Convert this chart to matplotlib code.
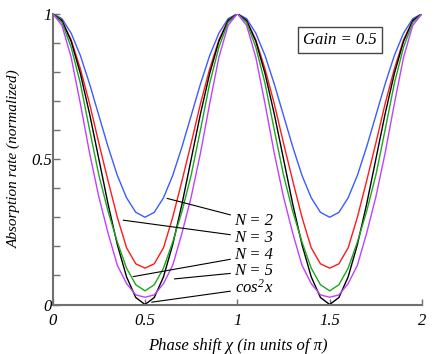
import matplotlib
matplotlib.use("Agg")
import matplotlib.pyplot as plt
from matplotlib.ticker import MultipleLocator

plt.rcParams["font.family"] = ["Liberation Serif", "DejaVu Serif"]
plt.rcParams["font.style"] = "italic"
plt.rcParams["mathtext.fontset"] = "custom"
plt.rcParams["mathtext.rm"] = "Liberation Serif:italic"
plt.rcParams["mathtext.it"] = "Liberation Serif:italic"

# phase shift in units of pi
phase = [0.00, 0.05, 0.10, 0.15, 0.20, 0.25, 0.30, 0.35, 0.40, 0.45,
         0.50, 0.55, 0.60, 0.65, 0.70, 0.75, 0.80, 0.85, 0.90, 0.95,
         1.00, 1.05, 1.10, 1.15, 1.20, 1.25, 1.30, 1.35, 1.40, 1.45,
         1.50, 1.55, 1.60, 1.65, 1.70, 1.75, 1.80, 1.85, 1.90, 1.95, 2.00]

n2 = [1.0, 0.983, 0.933, 0.856, 0.758, 0.65, 0.542, 0.444, 0.367, 0.317,
      0.30, 0.317, 0.367, 0.444, 0.542, 0.65, 0.758, 0.856, 0.933, 0.983,
      1.0, 0.983, 0.933, 0.856, 0.758, 0.65, 0.542, 0.444, 0.367, 0.317,
      0.30, 0.317, 0.367, 0.444, 0.542, 0.65, 0.758, 0.856, 0.933, 0.983, 1.0]

n3 = [1.0, 0.977, 0.91, 0.81, 0.69, 0.555, 0.425, 0.30, 0.195, 0.14,
      0.125, 0.14, 0.195, 0.30, 0.425, 0.555, 0.69, 0.81, 0.91, 0.977,
      1.0, 0.977, 0.91, 0.81, 0.69, 0.555, 0.425, 0.30, 0.195, 0.14,
      0.125, 0.14, 0.195, 0.30, 0.425, 0.555, 0.69, 0.81, 0.91, 0.977, 1.0]

n4 = [1.0, 0.97, 0.885, 0.76, 0.60, 0.445, 0.32, 0.215, 0.125, 0.068,
      0.047, 0.068, 0.125, 0.215, 0.32, 0.445, 0.60, 0.76, 0.885, 0.97,
      1.0, 0.97, 0.885, 0.76, 0.60, 0.445, 0.32, 0.215, 0.125, 0.068,
      0.047, 0.068, 0.125, 0.215, 0.32, 0.445, 0.60, 0.76, 0.885, 0.97, 1.0]

n5 = [1.0, 0.96, 0.85, 0.69, 0.52, 0.37, 0.245, 0.135, 0.072, 0.033,
      0.025, 0.033, 0.072, 0.135, 0.245, 0.37, 0.52, 0.69, 0.85, 0.96,
      1.0, 0.96, 0.85, 0.69, 0.52, 0.37, 0.245, 0.135, 0.072, 0.033,
      0.025, 0.033, 0.072, 0.135, 0.245, 0.37, 0.52, 0.69, 0.85, 0.96, 1.0]

cos2 = [1.0, 0.976, 0.905, 0.794, 0.655, 0.5, 0.345, 0.206, 0.095, 0.024,
        0.0, 0.024, 0.095, 0.206, 0.345, 0.5, 0.655, 0.794, 0.905, 0.976,
        1.0, 0.976, 0.905, 0.794, 0.655, 0.5, 0.345, 0.206, 0.095, 0.024,
        0.0, 0.024, 0.095, 0.206, 0.345, 0.5, 0.655, 0.794, 0.905, 0.976, 1.0]

labels = ["N = 2", "N = 3", "N = 4", "N = 5", r"$cos^2x$"]
# where each leader line touches its curve
leader_x = [0.619, 0.382, 0.436, 0.659, 0.536]
leader_y = [0.365, 0.29, 0.096, 0.088, 0.008]
label_y = [0.287, 0.229, 0.170, 0.115, 0.057]

fig = plt.figure(figsize=(4.34, 3.54), dpi=100)
ax = fig.add_axes([0.1214, 0.1398, 0.851, 0.8215])

lw = 1.0
ax.plot(phase, n2, color="#3a5cff", lw=lw)
ax.plot(phase, n3, color="#ff1a1a", lw=lw)
ax.plot(phase, cos2, color="black", lw=lw)
ax.plot(phase, n4, color="#1fa51f", lw=lw)
ax.plot(phase, n5, color="#c040ff", lw=lw)

for lab, lx, ly, ty in zip(labels, leader_x, leader_y, label_y):
    ax.annotate(lab, xy=(lx, ly), xytext=(0.985, ty), fontsize=12,
                ha="left", va="center",
                arrowprops=dict(arrowstyle="-", color="black", lw=0.8,
                                shrinkA=1, shrinkB=0))

ax.text(0.778, 0.91, "Gain = 0.5", transform=ax.transAxes, fontsize=12,
        ha="center", va="center",
        bbox=dict(boxstyle="square,pad=0.3", fc="white", ec="#444444", lw=1))

ax.set_xlim(0, 2)
ax.set_ylim(0, 1)
ax.xaxis.set_major_locator(MultipleLocator(0.5))
ax.yaxis.set_major_locator(MultipleLocator(0.5))
ax.yaxis.set_minor_locator(MultipleLocator(0.1))
ax.xaxis.set_major_formatter(plt.FuncFormatter(lambda v, p: f"{v:g}"))
ax.yaxis.set_major_formatter(plt.FuncFormatter(lambda v, p: f"{v:g}"))

for side in ["top", "right"]:
    ax.spines[side].set_visible(False)
for side in ["left", "bottom"]:
    ax.spines[side].set_color("#707070")
    ax.spines[side].set_linewidth(1.5)

ax.tick_params(which="both", direction="in", color="#707070", width=1,
               labelsize=12)
ax.tick_params(axis="y", which="major", length=5, pad=0.5)
ax.tick_params(axis="y", which="minor", length=5)
ax.tick_params(axis="x", which="major", length=4, pad=6)

ax.set_xlabel("Phase shift χ (in units of π)", fontsize=12)
ax.set_ylabel("Absorption rate (normalized)", fontsize=11)
ax.xaxis.set_label_coords(0.5, -0.115)
ax.yaxis.set_label_coords(-0.085, 0.5)

fig.savefig("out.png", dpi=100)
